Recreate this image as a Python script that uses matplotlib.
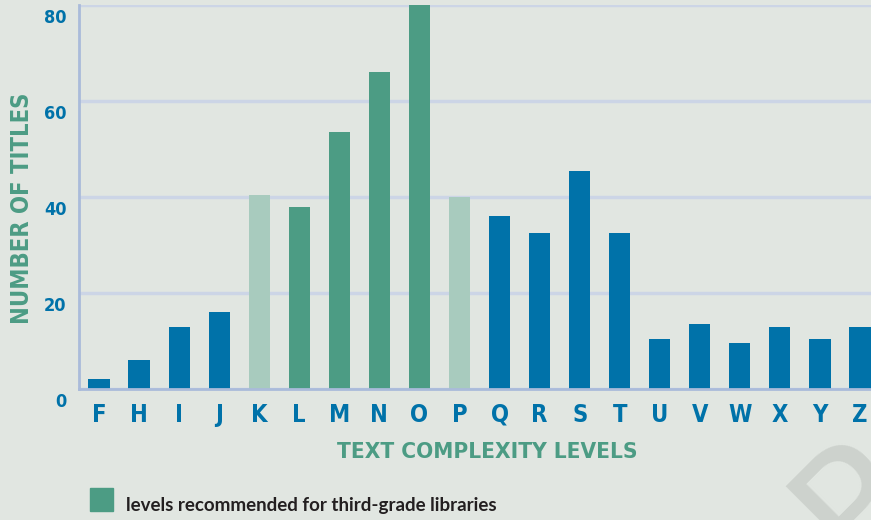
import matplotlib
matplotlib.use("Agg")
import matplotlib.pyplot as plt
import matplotlib.transforms as mtransforms
from matplotlib.patches import Rectangle
from matplotlib import font_manager

# data
levels = ['F', 'H', 'I', 'J', 'K', 'L', 'M', 'N', 'O', 'P',
          'Q', 'R', 'S', 'T', 'U', 'V', 'W', 'X', 'Y', 'Z']
titles = [2, 6, 13, 16, 40.5, 38, 53.5, 66, 80, 40,
          36, 32.5, 45.5, 32.5, 10.5, 13.5, 9.5, 13, 10.5, 13]
# 0 = other, 1 = edge of recommended band, 2 = recommended
group = [0, 0, 0, 0, 1, 2, 2, 2, 2, 1,
         0, 0, 0, 0, 0, 0, 0, 0, 0, 0]
yticks = [0, 20, 40, 60, 80]
legend_text = 'levels recommended for third-grade libraries'

BG = '#e1e6e1'
BLUE = '#0072a9'
GREEN = '#4c9c84'
LIGHT = '#a8cbbe'
GRID = '#ccd5e6'
SPINE = '#aabbda'
colors = {0: BLUE, 1: LIGHT, 2: GREEN}


def fp(size):
    # condensed bold, closest thing to the narrow headline face
    return font_manager.FontProperties(family='DejaVu Sans', weight='bold',
                                       stretch='condensed', size=size)


fig = plt.figure(figsize=(8.71, 5.20), dpi=100, facecolor=BG)
ax = fig.add_axes([79/871, (520-389)/520, 1 - 79/871, 384/520])
ax.set_facecolor(BG)

x = list(range(len(levels)))
ax.bar(x, titles, width=0.53, color=[colors[g] for g in group], zorder=3)

ax.set_xlim(-0.5, 19.275)
ax.set_ylim(0, 80)
ax.yaxis.grid(True, color=GRID, lw=2.5, zorder=1)
for s in ['top', 'right']:
    ax.spines[s].set_visible(False)
for s in ['left', 'bottom']:
    ax.spines[s].set_color(SPINE)
    ax.spines[s].set_linewidth(2)
    ax.spines[s].set_zorder(4)

ax.tick_params(length=0)
ax.set_xticks(x)
ax.set_xticklabels(levels, fontproperties=fp(17), color=BLUE)
ax.tick_params(axis='x', pad=10)
ax.set_yticks(yticks)
ax.set_yticklabels([str(v) for v in yticks], fontproperties=fp(13), color=BLUE)
ax.tick_params(axis='y', pad=9)
shift = mtransforms.ScaledTranslation(0, -11/100, fig.dpi_scale_trans)
for lab in ax.get_yticklabels():
    lab.set_transform(lab.get_transform() + shift)

fig.text(487.5/871, 1 - 452/520, 'TEXT COMPLEXITY LEVELS', ha='center', va='center',
         fontproperties=fp(16.2), color=GREEN)
fig.text(22/871, 1 - 208/520, 'NUMBER OF TITLES', ha='center', va='center',
         rotation=90, fontproperties=fp(17), color=GREEN)

# legend
fig.patches.append(Rectangle((90/871, 1 - 511/520), 23/871, 23/520,
                             transform=fig.transFigure, color=GREEN))
fig.text(126/871, 1 - 505/520, legend_text, ha='left', va='center',
         fontfamily='Lato', fontweight='bold', fontsize=13.5, color='#231f20')

# watermark fragment in the corner (diagonal letter)
fig.text(855/871, -51/520, 'P', ha='left', va='baseline', rotation=45,
         rotation_mode='anchor', fontfamily='DejaVu Sans', fontsize=119,
         color='#cdd2cd', zorder=0)

fig.savefig('out.png', dpi=100, facecolor=BG)
